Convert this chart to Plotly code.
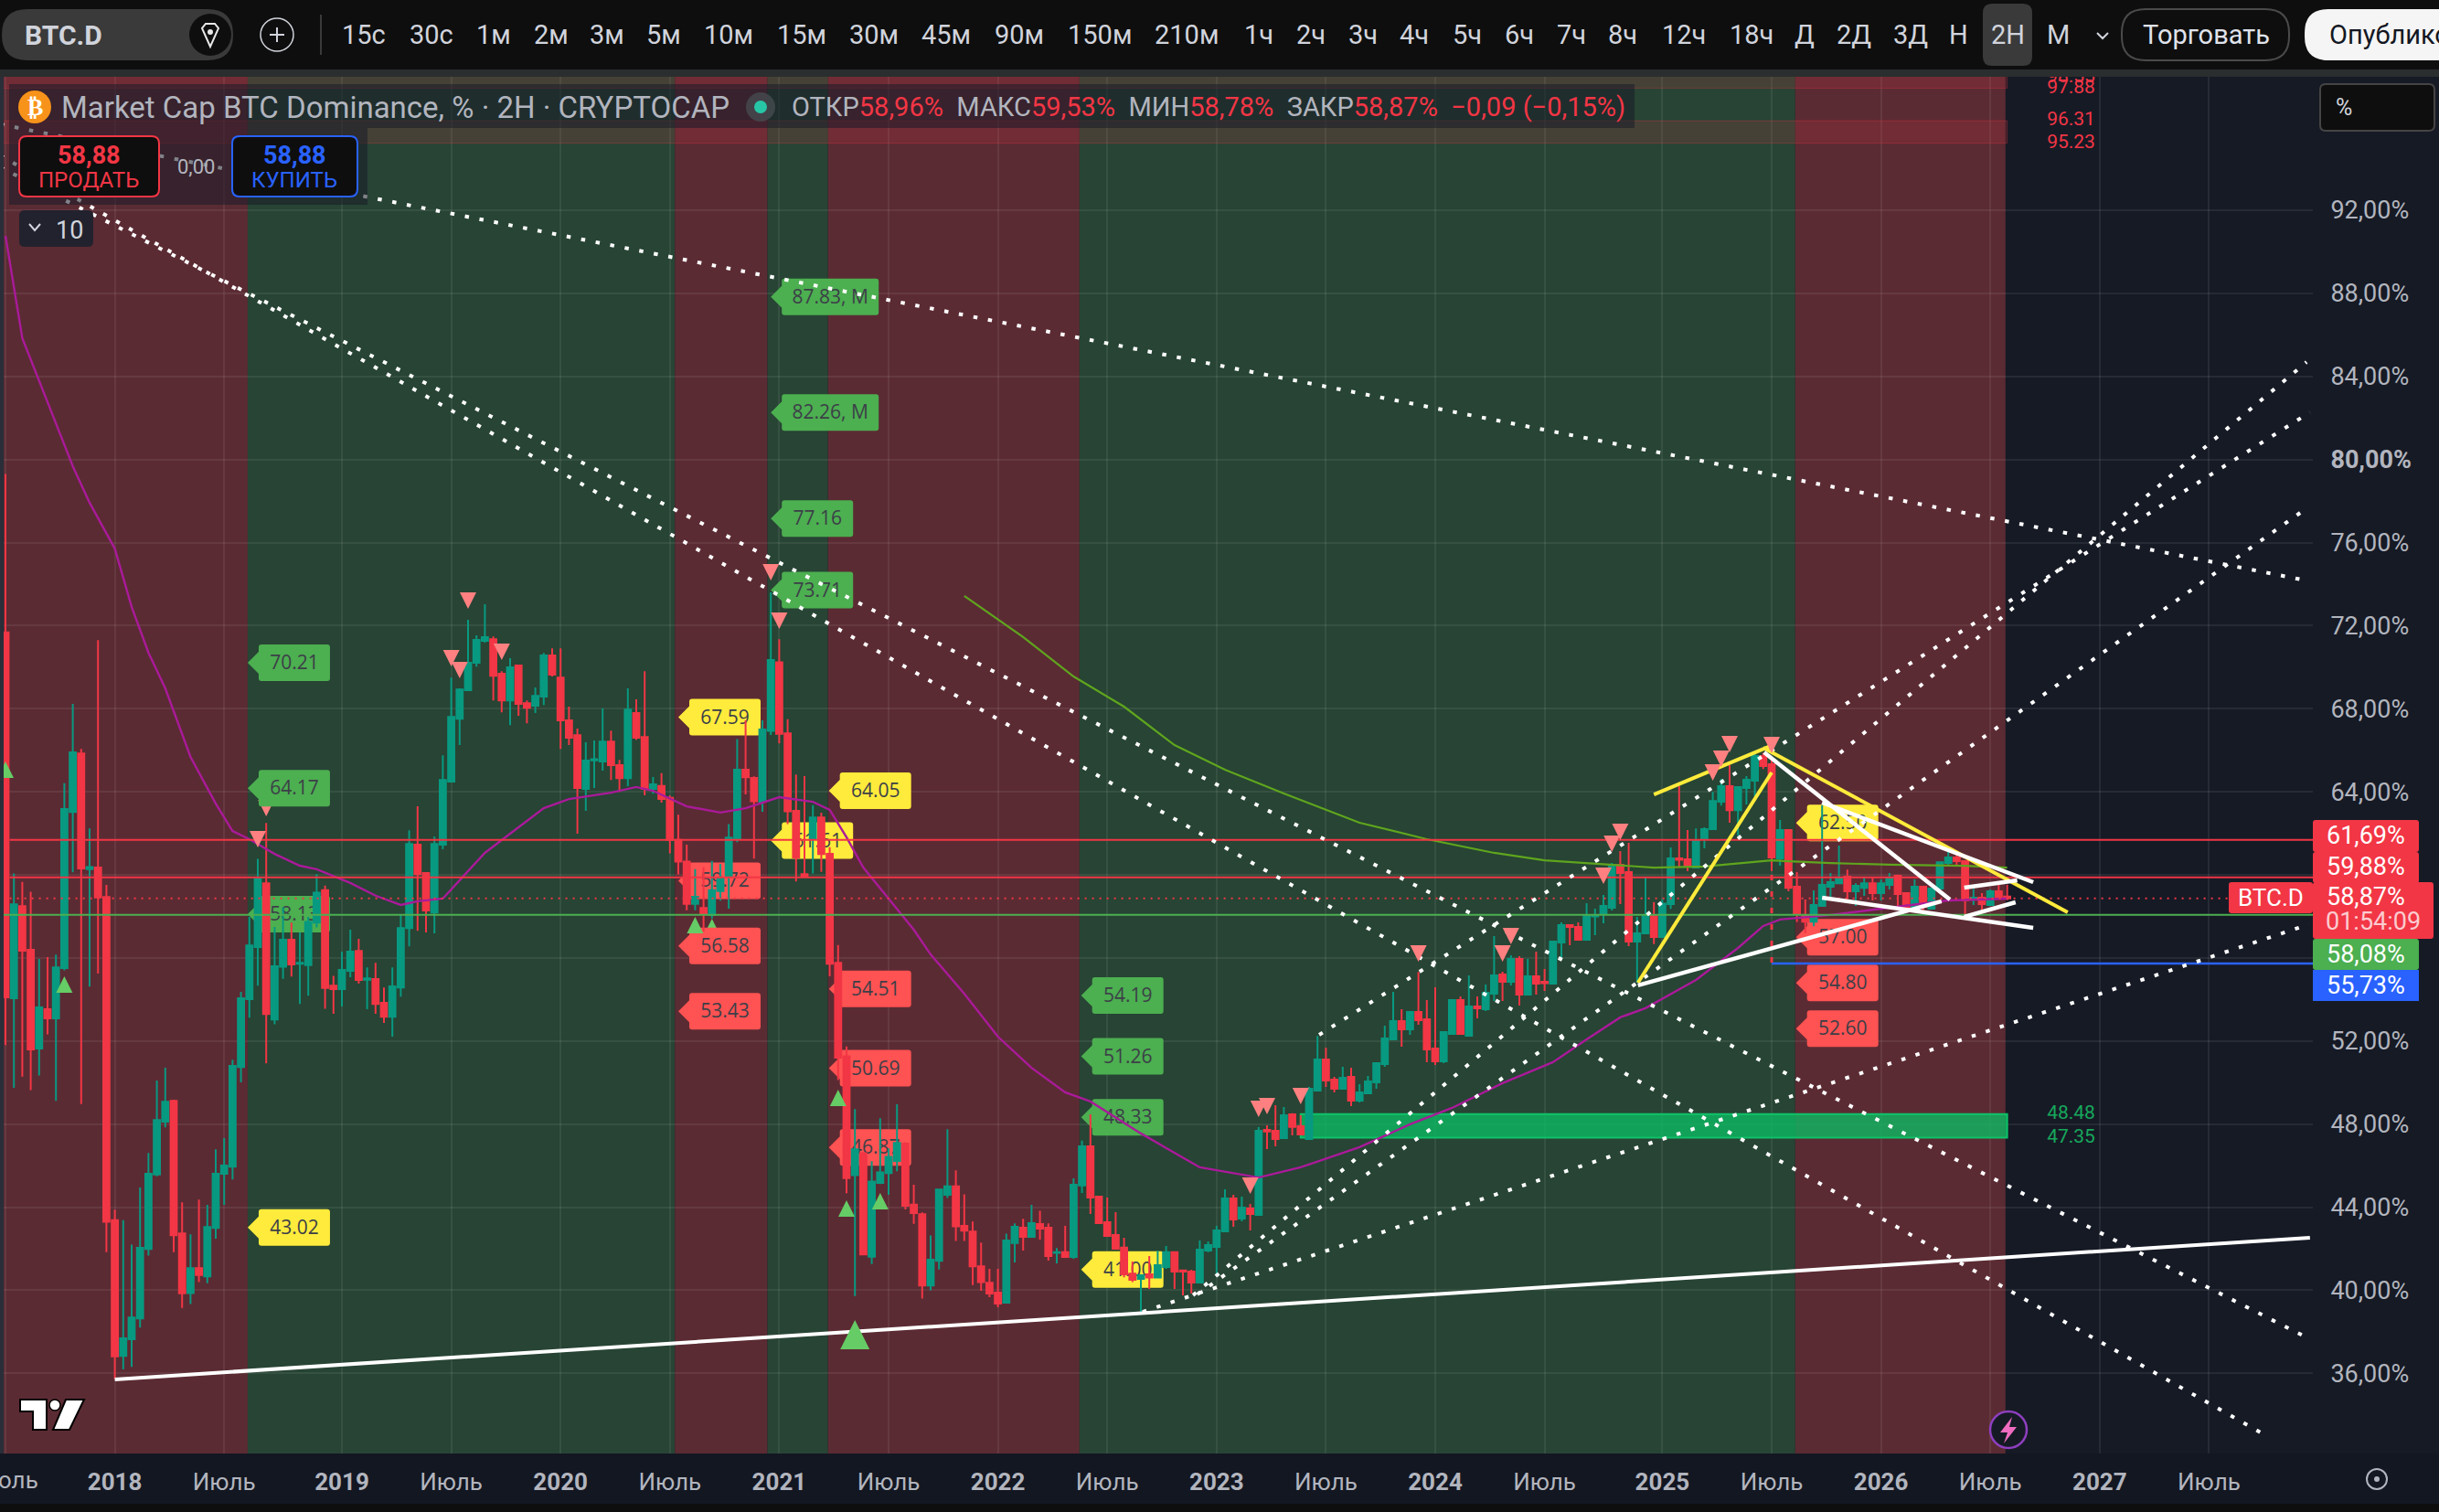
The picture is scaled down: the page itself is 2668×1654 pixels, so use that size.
import plotly.graph_objects as go

W = 2668
H = 1654

# 2 week bars
opens = [71.68,54.06,58.49,56.39,51.64,53.53,53.09,55.51,63.03,65.85,
 60.28,60.35,58.93,43.37,36.84,37.64,38.64,41.99,45.58,48.12,
 49.12,42.74,39.87,41.06,40.67,43.0,45.61,45.95,50.75,54.02,
 56.53,59.59,53.04,55.58,56.88,55.72,55.65,57.7,59.26,54.67,
 54.5,55.38,56.34,54.95,54.98,53.84,53.17,54.58,57.44,61.45,
 60.09,58.19,61.45,64.49,67.52,68.89,70.21,71.27,71.35,69.68,
 68.4,70.08,68.27,68.14,68.58,70.56,69.5,67.44,66.73,64.14,
 65.51,65.46,66.42,65.28,64.66,67.79,66.64,64.14,64.28,63.71,
 61.68,60.64,58.6,58.41,58.07,59.22,59.95,61.75,65.06,64.67,
 63.52,66.93,70.24,66.81,63.08,60.03,61.75,62.76,61.01,55.76,
 51.27,45.54,46.6,41.61,45.17,45.64,46.23,47.06,44.12,43.66,
 40.23,41.42,44.6,45.0,43.1,42.83,41.15,40.36,39.89,39.4,
 42.27,43.01,42.57,43.19,43.01,41.8,41.83,41.6,45.05,46.93,
 44.51,43.28,42.66,42.05,40.8,40.55,40.77,40.61,41.12,41.83,
 40.95,40.9,40.37,41.91,42.09,42.84,44.42,43.45,43.94,43.63,
 47.72,47.68,47.33,48.47,47.9,47.28,49.61,51.11,50.14,49.7,
 50.27,49.13,49.48,50.01,50.89,52.08,52.96,52.56,53.4,53.05,
 51.64,51.02,52.34,53.97,52.25,53.66,53.53,54.28,55.2,54.85,
 55.95,54.24,55.12,54.85,54.76,56.74,57.58,57.49,56.88,58.0,
 58.11,58.42,60.49,60.13,56.79,57.18,58.03,57.01,58.59,60.79,
 60.75,60.35,61.72,62.2,63.52,64.27,63.12,64.18,64.53,65.72,
 65.33,60.79,62.16,59.43,58.06,57.75,58.5,59.43,59.6,59.91,
 59.21,59.38,59.6,59.12,59.52,59.96,59.12,58.46,59.43,58.37,
 59.34,60.57,60.84,60.66,58.87,58.9,58.55,59.21,58.96]

closes = [54.1,58.58,56.35,51.59,53.62,53.09,55.55,63.17,65.9,60.31,
 60.38,58.91,43.3,36.82,37.69,38.69,42.04,45.61,48.19,49.08,
 42.65,39.85,41.06,40.74,43.04,45.61,46.0,50.8,54.06,56.6,
 59.82,53.3,55.6,56.88,55.69,55.76,57.74,59.14,54.55,54.5,
 55.42,56.3,54.94,55.02,53.79,53.17,54.63,57.44,61.49,60.04,
 58.28,61.49,64.57,67.61,68.93,70.21,71.31,71.44,69.59,68.4,
 69.99,68.23,68.05,68.62,70.56,69.64,67.44,66.6,64.18,65.5,
 65.57,66.42,65.28,64.66,67.96,66.6,64.14,64.36,63.66,61.68,
 60.64,58.6,58.94,58.11,59.26,59.86,61.8,65.06,64.7,63.54,
 67.0,70.34,66.79,63.06,60.83,59.93,62.76,61.0,55.72,51.2,
 45.4,46.79,41.72,45.24,45.68,46.42,47.09,44.07,43.72,40.23,
 41.47,44.85,45.0,43.08,42.87,41.15,40.39,39.84,39.36,42.4,
 43.06,42.57,43.23,42.97,41.65,41.83,41.6,45.08,46.93,44.47,
 43.23,42.62,42.0,40.77,40.5,40.72,40.61,41.21,41.83,40.9,
 40.9,40.37,41.96,42.18,42.88,44.42,43.41,43.98,43.67,47.68,
 47.64,47.28,48.43,47.86,47.5,49.7,51.11,50.1,49.7,50.23,
 49.13,49.53,50.05,50.93,52.12,52.96,52.56,53.4,53.0,51.59,
 51.02,52.43,53.97,52.34,53.66,53.58,54.32,55.16,54.85,55.95,
 54.24,55.12,54.76,54.79,56.79,57.58,57.49,56.88,58.02,58.04,
 58.5,60.49,60.09,56.79,57.18,58.02,57.01,58.62,60.79,60.73,
 60.4,61.67,62.2,63.56,64.27,63.12,64.23,64.58,65.72,65.24,
 60.84,62.16,59.38,58.15,57.75,58.55,59.52,59.65,59.87,59.21,
 59.47,59.6,59.12,59.6,59.87,59.08,58.46,59.43,58.46,59.34,
 60.61,60.84,60.66,58.77,58.9,58.59,59.21,58.94,58.87]

highs = [79.3,60.07,59.66,59.19,55.95,56.04,56.16,64.41,68.23,66.06,
 62.24,71.3,59.52,43.88,43.37,42.2,44.95,46.61,50.1,50.71,
 49.17,44.23,42.69,44.37,44.11,46.79,47.33,51.1,54.37,57.98,
 60.77,62.5,57.49,58.44,57.7,57.23,57.98,60.03,59.49,55.14,
 56.3,57.36,56.92,55.55,55.77,54.58,55.55,58.1,62.15,63.3,
 60.13,61.85,65.76,69.5,68.98,72.28,71.53,73.03,71.48,69.81,
 70.43,70.12,68.4,69.02,70.69,70.91,70.91,68.1,67.04,66.38,
 66.47,68.01,66.95,65.54,68.98,68.45,69.81,64.71,64.9,63.82,
 62.9,61.45,60.28,60.37,60.67,60.53,62.44,66.54,67.44,64.74,
 67.44,73.6,71.35,67.5,64.83,64.75,63.36,63.0,61.33,56.62,
 51.74,48.72,46.65,46.21,48.28,46.83,48.95,47.13,45.08,43.75,
 42.64,44.85,47.75,45.77,44.62,43.31,42.3,41.03,41.03,42.73,
 43.22,43.44,44.11,43.83,43.22,42.03,43.1,45.39,47.2,48.47,
 44.51,44.47,43.76,42.53,41.38,40.72,41.65,41.91,42.13,41.87,
 40.99,40.99,42.4,42.35,43.1,44.86,44.6,44.51,44.16,47.86,
 47.94,48.91,48.82,48.52,48.43,49.79,52.24,51.68,50.27,50.76,
 50.71,49.92,50.32,50.93,52.74,54.37,53.53,53.4,55.32,53.97,
 54.59,52.43,53.97,54.15,55.16,54.15,54.72,57.05,55.34,56.13,
 56.08,55.95,56.3,55.47,56.79,57.71,57.62,57.71,58.64,58.37,
 59.03,60.57,61.15,61.54,57.98,59.87,58.69,58.84,61.32,64.27,
 62.16,62.24,62.29,64.0,64.62,65.28,64.23,64.75,65.88,65.88,
 65.66,62.64,62.2,60.13,58.81,59.25,63.36,60.09,61.41,60.26,
 59.59,59.87,59.87,59.78,60.09,60.01,59.15,59.78,59.43,59.34,
 60.61,61.1,60.97,60.66,59.33,59.12,59.3,59.52,59.53]

lows = [51.8,49.75,50.29,49.64,50.34,52.32,49.12,55.4,60.12,48.96,
 54.62,55.25,41.83,35.73,36.19,36.31,38.2,41.67,45.49,47.84,
 41.83,39.15,39.34,40.39,40.34,42.48,44.11,45.33,50.01,53.13,
 54.67,50.92,52.81,55.0,55.11,53.78,54.18,57.47,53.55,53.31,
 53.66,55.07,54.76,53.53,53.31,52.87,52.21,54.14,56.56,57.31,
 57.23,57.18,61.23,64.49,66.25,68.89,70.03,71.18,68.4,67.83,
 67.21,67.66,67.3,67.79,68.18,69.55,66.07,66.25,61.98,63.08,
 64.18,65.02,64.57,64.0,64.27,66.5,63.83,63.91,63.48,61.04,
 60.02,58.3,58.3,57.26,57.9,58.76,58.37,61.57,63.87,60.78,
 63.04,66.74,66.33,62.44,59.68,59.93,60.07,60.14,55.12,50.12,
 44.67,39.72,41.68,41.26,45.11,44.6,45.73,43.89,43.2,39.6,
 40.0,41.0,44.44,42.37,42.37,40.25,39.97,39.67,39.18,39.4,
 41.34,41.91,42.57,42.44,41.43,41.3,41.6,41.52,44.69,43.67,
 43.19,42.62,42.0,40.62,40.39,38.96,40.06,40.61,41.03,40.06,
 39.76,39.84,40.33,41.83,40.77,42.84,43.06,43.32,42.88,43.63,
 46.8,46.93,47.28,47.46,47.5,47.28,49.61,49.79,49.53,49.7,
 48.87,49.04,49.48,49.7,50.76,52.08,51.73,52.3,52.78,50.98,
 50.85,50.93,52.3,52.3,52.25,53.09,53.44,53.93,53.93,54.68,
 53.71,54.24,54.24,54.41,54.76,55.91,56.61,56.88,56.88,57.1,
 57.67,58.28,58.59,56.57,54.81,57.15,56.67,57.01,58.36,60.34,
 60.18,60.31,61.28,62.2,63.34,62.51,61.89,63.39,63.78,65.1,
 60.18,60.44,59.21,57.74,57.2,57.53,58.5,58.87,59.57,58.84,
 58.5,58.99,58.77,58.77,59.3,58.46,58.4,58.46,58.25,58.37,
 59.34,60.4,60.48,58.1,58.55,58.18,58.5,58.86,58.78]

bars = list(range(len(opens)))

# moving averages
ma50_bars = [0,2,5,8,10,13,15,17,19,22,25,27,29,32,35,37,41,44,47,49,52,54,57,60,64,67,72,75,77,81,85,88,92,96,98,100,
 102,105,108,110,114,118,122,126,129,135,142,149,154,161,167,172,178,184,188,192,195,201,206,209,211,217,224,231,238]
ma50_vals = [90.77,85.84,82.76,79.68,77.92,75.71,72.9,70.7,68.98,65.68,63.43,62.11,61.72,61.01,60.44,60.27,59.61,59.0,58.55,58.73,
 58.86,59.74,61.06,61.98,63.21,63.65,63.96,64.23,64.05,63.3,63.0,63.21,63.74,63.52,63.13,61.81,
 60.35,58.86,57.36,56.17,54.28,52.21,50.71,49.53,49.09,47.55,45.92,45.43,45.92,46.89,47.99,48.78,49.97,50.98,52.08,53.14,53.58,
 54.94,56.48,57.54,57.85,58.07,58.42,58.77,58.86]
ma200_bars = [114,121,127,133,139,145,152,161,169,177,183,191,196,202,210,212,217,224,233,238]
ma200_vals = [73.43,71.45,69.55,68.1,66.25,65.06,63.92,62.51,61.72,61.06,60.7,60.49,60.35,60.4,60.7,60.66,60.57,60.49,60.44,60.35]

# background zones, edges in bars
zone_edges = [-1, 28.8, 79.6, 90.6, 97.8, 127.7, 212.8, 237.8]
zone_kinds = ["red", "green", "red", "green", "red", "green", "red"]

# axis ticks
y_ticks = [92,88,84,80,76,72,68,64,60,56,52,48,44,40,36]
y_labels = ["92,00%","88,00%","84,00%","<b>80,00%</b>","76,00%","72,00%","68,00%","64,00%","","","52,00%","48,00%","44,00%","40,00%","36,00%"]
x_ticks = [0,13,26,40,53,66,79,92,105,118,131,144,157,170,183,197,210,223,236,249,262]
x_labels = ["","<b>2018</b>","Июль","<b>2019</b>","Июль","<b>2020</b>","Июль","<b>2021</b>","Июль","<b>2022</b>","Июль",
 "<b>2023</b>","Июль","<b>2024</b>","Июль","<b>2025</b>","Июль","<b>2026</b>","Июль","<b>2027</b>","Июль"]

# drawn lines (bar, percent) start and end
dotted_lines = [
 (-0.65,96.14,273.6,74.17),
 (-0.65,94.07,273.6,37.73),
 (-0.65,94.64,268.5,33.07),
 (156.2,52.3,274,82.27),
 (141.2,39.76,273.6,84.69),
 (141.7,39.8,273.6,77.65),
 (135.2,38.96,273.9,57.62),
]
yellow_lines = [(196,63.87,210.1,66.25),(194.1,54.81,210,64.93),(209,66.12,245.2,58.2)]
white_lines = [(194.1,54.68,230.2,58.73),(209.1,65.9,231.2,58.81),(216,63.48,241.1,59.65),
 (216,58.9,241.1,57.45),(232.9,59.39,239.2,59.74),(232.9,57.98,239,58.68)]
support_line = (13,35.71,274,42.53)

level_high = 61.69
level_mid = 59.88
level_last = 58.87
level_green = 58.08
level_blue = 55.73
stop_bar = 210

# boxes on top and the demand zone
band_tops = [98.55, 96.31]
band_bottoms = [97.88, 95.23]
band_end = 238
zone_top = 48.48
zone_bottom = 47.35
zone_start = 154
zone_end = 238

# price tags: tip bar, value, text, colour
tag_bars = [28.8,28.8,28.8,28.8, 80,80,80,80, 91,91,91,91,91, 97.9,97.9,97.9,97.9, 127.9,127.9,127.9,127.9, 212.9,212.9,212.9,212.9]
tag_vals = [70.21,64.17,58.11,43.02, 67.59,59.72,56.58,53.43, 87.83,82.26,77.16,73.71,61.65, 64.05,54.51,50.69,46.87, 54.19,51.26,48.33,41.0, 62.5,57.0,54.8,52.6]
tag_text = ["70.21","64.17","58.13","43.02","67.59","59.72","56.58","53.43","87.83, M","82.26, M","77.16","73.71","61.61",
 "64.05","54.51","50.69","46.87","54.19","51.26","48.33","41.00","62.50","57.00","54.80","52.60"]
tag_kind = ["g","g","g","y","y","r","r","r","g","g","g","g","y","y","r","r","r","g","g","g","y","y","r","r","r"]

# triangles
down_bars = [30,53,54,55,59,91,92,148,149,150,154,168,178,179,190,191,192,203,204,205,210]
down_vals = [61.72,70.43,69.86,73.21,70.74,74.57,72.24,45.04,48.73,48.87,49.35,56.22,56.22,57.05,59.96,61.5,62.07,64.93,65.59,66.3,66.25]
up_bars = [0,7,82,99,100,104]
up_vals = [65.06,54.72,57.58,49.26,43.94,44.29]
big_up_bar = 101
big_up_val = 37.86
hidden_tri = [(31,63.22,"down"),(84,57.49,"up")]

# small texts on the chart
box_label_bar = 245.6
box_label_vals = [98.4,97.88,96.31,95.23]
box_label_text = ["98.55","97.88","96.31","95.23"]
zone_label_vals = [48.48,47.35]
zone_label_text = ["48.48","47.35"]

# toolbar
tf_text = ["15с","30с","1м","2м","3м","5м","10м","15м","30м","45м","90м","150м","210м","1ч","2ч","3ч","4ч","5ч","6ч","7ч","8ч","12ч","18ч","Д","2Д","3Д","Н","2Н","М"]
tf_x = [398,472,540,603,664,726,797,877,956,1035,1115,1203,1298,1377,1434,1491,1547,1605,1662,1719,1775,1842,1916,1974,2028,2090,2142,2196,2251]

RED = "#F23645"
GREEN = "#089981"
BLUE = "#2962FF"
GRAY = "#B2B5BE"
FONT = "Roboto"
PLOT_L, PLOT_R, PLOT_T, PLOT_B = 4, 2530, 84, 1590
PX_BAR = 9.2
PX_PCT = 22.72


def px(x):
    return x / W


def py(y):
    return 1 - y / H


def paper_rect(x0, y0, x1, y1, fill, line=None, lw=0, layer="above"):
    return dict(type="rect", xref="paper", yref="paper", x0=px(x0), x1=px(x1), y0=py(y0), y1=py(y1),
                fillcolor=fill, line=dict(color=line or "rgba(0,0,0,0)", width=lw), layer=layer)


def round_rect(x0, y0, x1, y1, r, fill, line=None, lw=0, layer="above"):
    # rounded box, paper coordinates are used so everything is in screen pixels
    pts = "M%f,%f L%f,%f Q%f,%f %f,%f L%f,%f Q%f,%f %f,%f L%f,%f Q%f,%f %f,%f L%f,%f Q%f,%f %f,%f Z" % (
        px(x0+r),py(y0), px(x1-r),py(y0), px(x1),py(y0), px(x1),py(y0+r), px(x1),py(y1-r), px(x1),py(y1), px(x1-r),py(y1),
        px(x0+r),py(y1), px(x0),py(y1), px(x0),py(y1-r), px(x0),py(y0+r), px(x0),py(y0), px(x0+r),py(y0))
    return dict(type="path", xref="paper", yref="paper", path=pts, fillcolor=fill,
                line=dict(color=line or "rgba(0,0,0,0)", width=lw), layer=layer)


def poly(points, fill, line=None, lw=0, layer="above"):
    p = "M" + " L".join("%f,%f" % (px(a), py(b)) for a, b in points) + " Z"
    return dict(type="path", xref="paper", yref="paper", path=p, fillcolor=fill,
                line=dict(color=line or "rgba(0,0,0,0)", width=lw), layer=layer)


def circle(cx, cy, r, fill, line=None, lw=0):
    return dict(type="circle", xref="paper", yref="paper", x0=px(cx-r), x1=px(cx+r), y0=py(cy+r), y1=py(cy-r),
                fillcolor=fill, line=dict(color=line or "rgba(0,0,0,0)", width=lw), layer="above")


def txt(x, y, text, size, color, anchor="center", bold=False, family=FONT):
    if bold:
        text = "<b>" + text + "</b>"
    return dict(xref="paper", yref="paper", x=px(x), y=py(y), text=text, showarrow=False, xanchor=anchor, yanchor="middle",
                font=dict(family=family, size=size, color=color))


def triangle(bar, val, kind, half=9, fill="#FF8080", layer="above"):
    if kind == "down":
        path = "M%d,%d L%d,%d L0,%d Z" % (-half, half, half, half, -half)
    else:
        path = "M%d,%d L%d,%d L0,%d Z" % (-half, -half, half, -half, half)
    return dict(type="path", xref="x", yref="y", xsizemode="pixel", ysizemode="pixel", xanchor=bar, yanchor=val,
                path=path, fillcolor=fill, line=dict(width=0), layer=layer)


def tag(bar, val, text, kind):
    colors = {"g": "#4CAF50", "y": "#FFEB3B", "r": "#FF5252"}
    w = 118 if "M" in text else 90
    path = "M0,0 L12,12 L12,17 Q12,20 15,20 L%d,20 Q%d,20 %d,17 L%d,-17 Q%d,-20 %d,-20 L15,-20 Q12,-20 12,-17 L12,-12 Z" % (
        w-3, w, w, w, w, w-3)
    body = dict(type="path", xref="x", yref="y", xsizemode="pixel", ysizemode="pixel", xanchor=bar, yanchor=val,
                path=path, fillcolor=colors[kind], line=dict(width=0), layer="between")
    # text sits in an empty box, also under the candles
    label = dict(type="rect", xref="x", yref="y", x0=bar+12/PX_BAR, x1=bar+w/PX_BAR, y0=val-20/PX_PCT, y1=val+20/PX_PCT,
                 fillcolor="rgba(0,0,0,0)", line=dict(width=0), layer="between",
                 label=dict(text=text, font=dict(family="Open Sans", size=21, color="#3c3f48"), textposition="middle center"))
    return [body, label]


fig = go.Figure()

fig.add_trace(go.Candlestick(x=bars, open=opens, high=highs, low=lows, close=closes,
                             increasing=dict(line=dict(color=GREEN, width=2), fillcolor=GREEN),
                             decreasing=dict(line=dict(color=RED, width=2), fillcolor=RED),
                             showlegend=False, hoverinfo="skip"))

fig.add_trace(go.Scatter(x=ma50_bars, y=ma50_vals, mode="lines", line=dict(color="#AA1A9A", width=2.4), hoverinfo="skip"))
fig.add_trace(go.Scatter(x=ma200_bars, y=ma200_vals, mode="lines", line=dict(color="#5FA51E", width=2.2), hoverinfo="skip"))

xmin = (PLOT_L - 6) / PX_BAR
xmax = (PLOT_R - 6) / PX_BAR


def add_line(x0, y0, x1, y1, color, width, dash="solid"):
    fig.add_trace(go.Scatter(x=[x0, x1], y=[y0, y1], mode="lines", line=dict(color=color, width=width, dash=dash), hoverinfo="skip"))


add_line(0.5, level_high, xmax, level_high, RED, 2)
add_line(0.5, level_mid, xmax, level_mid, RED, 2)
add_line(0.5, level_last, xmax, level_last, RED, 2, "2px,6px")
add_line(xmin, level_green, xmax, level_green, "#4CAF50", 2)
add_line(stop_bar, level_blue, xmax, level_blue, BLUE, 2.5)
add_line(stop_bar, 60.0, stop_bar, level_blue, RED, 3, "6px,12px")

for l in dotted_lines:
    add_line(l[0], l[1], l[2], l[3], "white", 4, "4.5px,11.7px")
add_line(support_line[0], support_line[1], support_line[2], support_line[3], "white", 4)
for l in yellow_lines:
    add_line(l[0], l[1], l[2], l[3], "#FFEB3B", 4)
for l in white_lines:
    add_line(l[0], l[1], l[2], l[3], "white", 4.5)

fig.add_trace(go.Scatter(x=[box_label_bar]*len(box_label_vals), y=box_label_vals, text=box_label_text, mode="text",
                         textfont=dict(family=FONT, size=21, color=RED), hoverinfo="skip"))
fig.add_trace(go.Scatter(x=[box_label_bar]*len(zone_label_vals), y=zone_label_vals, text=zone_label_text, mode="text",
                         textfont=dict(family=FONT, size=21, color="#16A85C"), hoverinfo="skip"))

shapes = []

# frame pieces outside the plot
shapes.append(paper_rect(0, 76, W, 1645, "#161A25", layer="below"))
shapes.append(paper_rect(0, 76, W, 84, "#2A2E2E", layer="below"))
shapes.append(paper_rect(0, 84, PLOT_L, 1590, "#2A2E39", layer="below"))
shapes.append(paper_rect(0, 1590, W, 1645, "#131722", layer="below"))

for i in range(len(zone_kinds)):
    shapes.append(dict(type="rect", xref="x", yref="y domain", x0=zone_edges[i], x1=zone_edges[i+1], y0=0, y1=1,
                       fillcolor="#5B2B33" if zone_kinds[i] == "red" else "#274434", line=dict(width=0), layer="below"))

for top, bottom in zip(band_tops, band_bottoms):
    shapes.append(dict(type="rect", xref="x", yref="y", x0=zone_edges[0], x1=band_end, y0=bottom, y1=top,
                       fillcolor="rgba(242,54,69,0.15)", line=dict(color="rgba(242,54,69,0.3)", width=1), layer="between"))

shapes.append(dict(type="rect", xref="x", yref="y", x0=zone_start, x1=zone_end, y0=zone_bottom, y1=zone_top,
                   fillcolor="rgba(13,185,97,0.8)", line=dict(color="#0FC268", width=2), layer="between"))

for b, v, k in hidden_tri:
    shapes.append(triangle(b, v, k, fill="#FF8080" if k == "down" else "#66CC66", layer="between"))

for b, v, t, k in zip(tag_bars, tag_vals, tag_text, tag_kind):
    shapes += tag(b, v, t, k)

for b, v in zip(down_bars, down_vals):
    shapes.append(triangle(b, v, "down"))
for b, v in zip(up_bars, up_vals):
    shapes.append(triangle(b, v, "up", fill="#66CC66"))
shapes.append(triangle(big_up_bar, big_up_val, "up", half=16, fill="#66CC66"))

# legend shade
shapes.append(paper_rect(10, 92, 1788, 140, "rgba(25,28,40,0.55)"))
shapes.append(paper_rect(10, 140, 402, 224, "rgba(25,28,40,0.55)"))

# toolbar
shapes.append(round_rect(2, 10, 255, 66, 28, "#3A3A3A"))
shapes.append(circle(230, 38, 23, "#0E0E0E"))
shapes.append(poly([(221,31),(225,26),(235,26),(239,31),(230,51)], "rgba(0,0,0,0)", "#E8E8E8", 2))
shapes.append(circle(230, 35, 3, "#E8E8E8"))
shapes.append(circle(303, 38, 18, "rgba(0,0,0,0)", "#D1D4DC", 1.5))
shapes.append(paper_rect(295, 37, 311, 39, "#D1D4DC"))
shapes.append(paper_rect(302, 30, 304, 46, "#D1D4DC"))
shapes.append(paper_rect(350, 16, 352, 60, "#3A3A3A"))
shapes.append(round_rect(2169, 4, 2223, 72, 10, "#3A3A3A"))
shapes.append(round_rect(2321, 10, 2504, 66, 26, "rgba(0,0,0,0)", "#4A4A4A", 2))
shapes.append(round_rect(2521, 10, 2720, 66, 26, "#F5F5F5"))
shapes.append(poly([(2294,36),(2300,42),(2306,36),(2300,42)], "rgba(0,0,0,0)", "#D1D4DC", 2))

# order buttons
shapes.append(round_rect(21, 149, 174, 215, 8, "#0E0E0E", RED, 2))
shapes.append(round_rect(254, 149, 391, 215, 8, "#0E0E0E", BLUE, 2))
shapes.append(round_rect(21, 230, 102, 270, 6, "#22222E"))
shapes.append(poly([(32,245),(38,252),(44,245),(38,252)], "rgba(0,0,0,0)", "#D1D4DC", 2))

# symbol icons
shapes.append(circle(38, 117, 18, "#F7931A"))
shapes.append(circle(832, 117, 16, "rgba(70,75,80,0.8)"))
shapes.append(circle(832, 117, 7, "#26C6A6"))

# percent box
shapes.append(round_rect(2538, 92, 2663, 143, 6, "#0E0E0E", "#444444", 2))

# price scale boxes
shapes.append(round_rect(2530, 897, 2646, 932, 3, RED))
shapes.append(round_rect(2530, 932, 2646, 966, 3, RED))
shapes.append(round_rect(2530, 965, 2662, 1027, 3, RED))
shapes.append(round_rect(2530, 1027, 2646, 1061, 3, "#4CAF50"))
shapes.append(paper_rect(2530, 1061, 2646, 1095, BLUE))
shapes.append(round_rect(2438, 965, 2530, 999, 3, RED))

# tradingview logo
shapes.append(poly([(22,1531),(51,1531),(51,1564),(36,1564),(36,1544),(22,1544)], "white", "black", 2))
shapes.append(circle(60, 1537, 6, "white", "black", 1.5))
shapes.append(poly([(72,1531),(92,1531),(76,1564),(58,1564)], "white", "black", 2))

# bolt badge and settings
shapes.append(circle(2197, 1564, 20, "#161A25", "#8E3FBF", 2.5))
shapes.append(poly([(2201,1550),(2188,1567),(2196,1567),(2192,1579),(2206,1561),(2198,1561)], "#F06CC0"))
shapes.append(circle(2600, 1618, 11, "rgba(0,0,0,0)", GRAY, 2))
shapes.append(circle(2600, 1618, 3, GRAY))

ann = []
ann.append(txt(25, 38, "BTC.D", 30, "#D1D4DC", "left", True))
ann.append(txt(38, 117, "₿", 26, "white", "center", True, "DejaVu Sans"))
for t, x in zip(tf_text, tf_x):
    ann.append(txt(x, 38, t, 29, "#D1D4DC"))
ann.append(txt(2413, 38, "Торговать", 29, "#E0E3EB"))
ann.append(txt(2546, 38, "Опубликовать", 29, "#131722", "left"))

ann.append(txt(65, 117, "Market Cap BTC Dominance, % · 2H · CRYPTOCAP", 33, GRAY, "left"))
r = '<span style="color:%s">%%s</span>' % RED
ann.append(txt(864, 117, "ОТКР" + r % "58,96%" + "  МАКС" + r % "59,53%" + "  МИН" + r % "58,78%" + "  ЗАКР" + r % "58,87%" + "  " + r % "−0,09 (−0,15%)", 29, GRAY, "left"))

ann.append(txt(97, 170, "58,88", 27, RED, "center", True))
ann.append(txt(97, 197, "ПРОДАТЬ", 24, RED))
ann.append(txt(322, 170, "58,88", 27, BLUE, "center", True))
ann.append(txt(322, 197, "КУПИТЬ", 24, BLUE))
ann.append(txt(214, 182, "0,00", 22, GRAY))
ann.append(txt(76, 252, "10", 27, "#D1D4DC"))
ann.append(txt(2553, 118, "%", 25, "#D1D4DC", "left"))

ann.append(txt(2588, 914, "61,69%", 27, "white"))
ann.append(txt(2588, 948, "59,88%", 27, "white"))
ann.append(txt(2588, 981, "58,87%", 27, "white"))
ann.append(txt(2596, 1008, "01:54:09", 27, "rgba(255,255,255,0.75)"))
ann.append(txt(2588, 1044, "58,08%", 27, "white"))
ann.append(txt(2588, 1078, "55,73%", 27, "white"))
ann.append(txt(2484, 982, "BTC.D", 26, "white"))
ann.append(txt(7, 1619, "Июль", 26, GRAY))

fig.update_layout(
    width=W, height=H, margin=dict(l=0, r=0, t=0, b=0), autosize=False,
    paper_bgcolor="#0E0E0E", plot_bgcolor="#161A25",
    showlegend=False, shapes=shapes, annotations=ann, boxgap=0.14, boxgroupgap=0.14,
    font=dict(family=FONT, color=GRAY),
    xaxis=dict(domain=[px(PLOT_L), px(PLOT_R)], range=[xmin, xmax], tickmode="array", tickvals=x_ticks, ticktext=x_labels,
               tickfont=dict(family=FONT, size=26, color=GRAY), showgrid=True, gridcolor="rgba(255,255,255,0.07)", gridwidth=2,
               zeroline=False, showline=False, ticks="outside", ticklen=8, tickcolor="rgba(0,0,0,0)", rangeslider=dict(visible=False),
               tickangle=0),
    yaxis=dict(domain=[py(PLOT_B), py(PLOT_T)], range=[92 - (PLOT_B - 230) / PX_PCT, 92 - (PLOT_T - 230) / PX_PCT], side="right",
               tickmode="array", tickvals=y_ticks, ticktext=y_labels, tickfont=dict(family=FONT, size=27, color=GRAY),
               showgrid=True, gridcolor="rgba(255,255,255,0.07)", gridwidth=2, zeroline=False, showline=False,
               ticks="outside", ticklen=13, tickcolor="rgba(0,0,0,0)"),
)

# the default page margin would shift the whole chart
fig.write_html("out.html", post_script="document.body.style.margin='0';", config=dict(displayModeBar=False))
